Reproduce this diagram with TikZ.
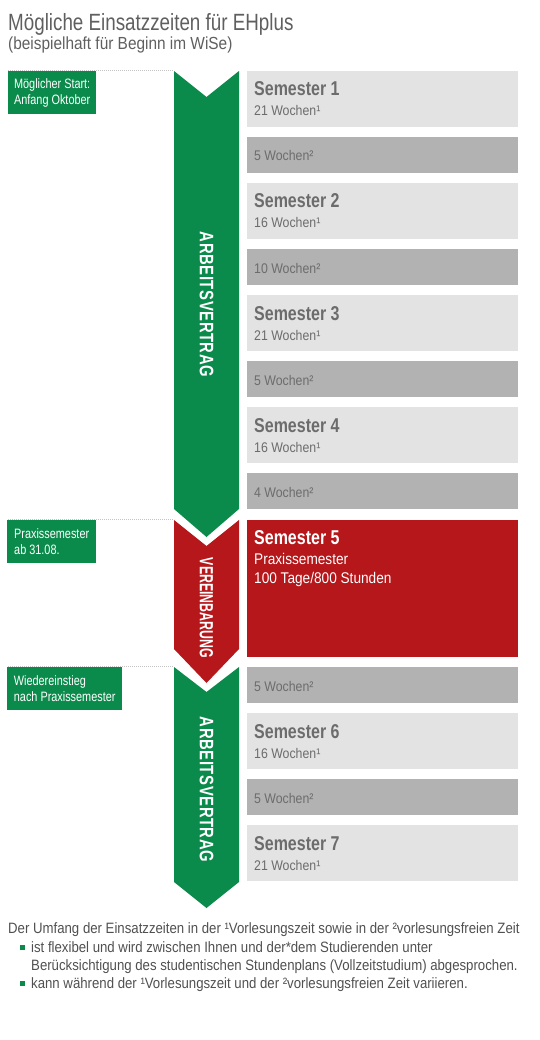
\documentclass[tikz,border=0pt]{standalone}
\usepackage{fontspec}
\setmainfont{Liberation Sans}[FakeStretch=0.88]
\newfontfamily\titlefont{Liberation Sans}[FakeStretch=0.8]
\newfontfamily\condfont{Liberation Sans}[FakeStretch=0.8]
\newfontfamily\vertfont{Liberation Sans}[FakeStretch=0.76, LetterSpace=3]
\newfontfamily\vereinfont{Liberation Sans}[FakeStretch=0.65]
\usetikzlibrary{calc}
\definecolor{ehgreen}{RGB}{11,139,75}
\definecolor{ehred}{RGB}{181,23,26}
\definecolor{semlight}{RGB}{227,227,227}
\definecolor{semdark}{RGB}{178,178,178}
\definecolor{semtext}{RGB}{108,108,108}
\definecolor{titlegray}{RGB}{95,95,95}
\definecolor{notegray}{RGB}{80,80,80}
\definecolor{dotgray}{RGB}{195,195,195}

\begin{document}
\begin{tikzpicture}[x=1pt,y=-1pt,
  semester/.style={fill=semlight, anchor=north west, inner sep=0pt,
                   minimum width=271pt, minimum height=56pt},
  pause/.style={fill=semdark, anchor=north west, inner sep=0pt,
                minimum width=271pt, minimum height=36pt},
  semtitle/.style={anchor=base west, inner sep=0pt, text=semtext,
                   font=\condfont\fontsize{20}{22}\selectfont\bfseries},
  semsub/.style={anchor=base west, inner sep=0pt, text=semtext,
                 font=\fontsize{14}{16}\selectfont},
  praxsub/.style={anchor=base west, inner sep=0pt, text=white,
                  font=\fontsize{15.5}{18}\selectfont},
  startlbl/.style={fill=ehgreen, text=white, anchor=north west, align=left,
                   inner xsep=4pt, minimum height=43pt,
                   font=\condfont\fontsize{13.6}{16}\selectfont},
  dotline/.style={dotgray, line width=1pt, dash pattern=on 1pt off 1pt},
  vlabel/.style={rotate=-90, text=white, inner sep=0pt,
                 font=\vertfont\fontsize{19.5}{20}\selectfont\bfseries},
  note/.style={anchor=base west, inner sep=0pt, text=notegray,
               font=\fontsize{15}{17}\selectfont},
  bullet/.style={fill=ehgreen, inner sep=0pt, minimum size=5pt}
]
\useasboundingbox (0,0) rectangle (539,1040);

% title
\node[anchor=base west, inner sep=0pt, text=titlegray,
      font=\titlefont\fontsize{23.5}{26}\selectfont] (title) at (8,31)
      {Mögliche Einsatzzeiten für EHplus};
\node[anchor=base west, inner sep=0pt, text=titlegray,
      font=\fontsize{17.5}{20}\selectfont] (subtitle) at (8,50)
      {(beispielhaft für Beginn im WiSe)};

% arrows
\fill[ehgreen] (174,71) -- (206.5,97) -- (239,71) -- (239,509)
  -- (206.5,537) -- (174,509) -- cycle;
\fill[ehred] (174,520) -- (206.5,546) -- (239,520) -- (239,649)
  -- (206.5,683) -- (174,649) -- cycle;
\fill[ehgreen] (174,667) -- (206.5,692) -- (239,667) -- (239,882)
  -- (206.5,908) -- (174,882) -- cycle;
\node[vlabel] (vertrag1) at (206.5,304.5) {ARBEITSVERTRAG};
\node[vlabel, font=\vereinfont\fontsize{19}{20}\selectfont\bfseries]
  (vereinb) at (206.5,608) {VEREINBARUNG};
\node[vlabel] (vertrag2) at (206.5,789.5) {ARBEITSVERTRAG};

% dotted guides
\coordinate (d1a) at (8,70.5);   \coordinate (d1b) at (174,70.5);
\coordinate (d2a) at (8,519.5);  \coordinate (d2b) at (174,519.5);
\coordinate (d3a) at (8,666.5);  \coordinate (d3b) at (174,666.5);
\foreach \i in {1,2,3}
  \draw[dotline] (d\i a) -- (d\i b);

% start labels
\node[startlbl, minimum width=88pt] (start) at (8,71)
  {Möglicher Start:\\Anfang Oktober};
\node[startlbl, minimum width=89pt] (praxis) at (7,520)
  {Praxissemester\\ab 31.08.};
\node[startlbl, minimum width=115pt] (wieder) at (7,667)
  {Wiedereinstieg\\nach Praxissemester};

% semester boxes
\node[semester] (s1) at (247,71) {};
\node[pause] (p1) at (247,137) {};
\node[semester] (s2) at (247,183) {};
\node[pause] (p2) at (247,249) {};
\node[semester] (s3) at (247,295) {};
\node[pause] (p3) at (247,361) {};
\node[semester] (s4) at (247,407) {};
\node[pause] (p4) at (247,473) {};
\node[semester, fill=ehred, minimum height=137pt] (s5) at (247,520) {};
\node[pause] (p5) at (247,667) {};
\node[semester] (s6) at (247,713) {};
\node[pause] (p6) at (247,779) {};
\node[semester] (s7) at (247,825) {};

\foreach \n/\w in {1/21,2/16,3/21,4/16,6/16,7/21} {
  \node[semtitle] (s\n t) at ($(s\n.north west)+(7,25)$) {Semester \n};
  \node[semsub] (s\n w) at ($(s\n.north west)+(7,45)$) {\w\ Wochen¹};
}
\foreach \n/\w in {1/5,2/10,3/5,4/4,5/5,6/5}
  \node[semsub] (p\n w) at ($(p\n.north west)+(7,24)$) {\w\ Wochen²};

\node[semtitle, text=white] (s5t) at ($(s5.north west)+(7,24)$) {Semester 5};
\node[praxsub] (s5a) at ($(s5.north west)+(7,44)$) {Praxissemester};
\node[praxsub] (s5b) at ($(s5.north west)+(7,63)$) {100 Tage/800 Stunden};

% footnote
\node[note] (n0) at (8,933)
  {Der Umfang der Einsatzzeiten in der ¹Vorlesungszeit sowie in der ²vorlesungsfreien Zeit};
\node[bullet] (b1) at (22.5,947) {};
\node[note] (n1) at (31,952)
  {ist flexibel und wird zwischen Ihnen und der*dem Studierenden unter};
\node[note] (n2) at (31,970)
  {Berücksichtigung des studentischen Stundenplans (Vollzeitstudium) abgesprochen.};
\node[bullet] (b2) at (22.5,983) {};
\node[note] (n3) at (31,988)
  {kann während der ¹Vorlesungszeit und der ²vorlesungsfreien Zeit variieren.};
\end{tikzpicture}
\end{document}
